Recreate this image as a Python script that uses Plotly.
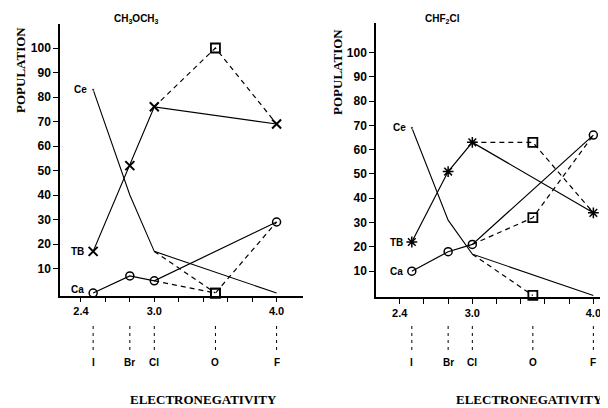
import plotly.graph_objects as go

# ---------------- data ----------------
elements = ["I", "Br", "Cl", "O", "F"]
elem_en = [2.5, 2.8, 3.0, 3.5, 4.0]

en_main = [2.5, 2.8, 3.0, 4.0]      # I, Br, Cl, F
en_o = 3.5                          # O

# CH3OCH3
tb_left = [17, 52, 76, 69]
ce_left = [83, 40, 17, 0]
ca_left = [0, 7, 5, 29]
tb_left_o = 100
ce_left_o = 0
ca_left_o = 0

# CHF2Cl
tb_right = [22, 51, 63, 34]
ce_right = [69, 31, 17, 0]
ca_right = [10, 18, 21, 66]
tb_right_o = 63
ce_right_o = 0
ca_right_o = 32

y_ticks = [10, 20, 30, 40, 50, 60, 70, 80, 90, 100]
x_ticks = [2.4, 3.0, 4.0]
x_ticktext = ["2.4", "3.0", "4.0"]
x_minor_ticks = [2.6, 2.8, 3.2, 3.4, 3.6, 3.8]

titles = ["CH<sub>3</sub>OCH<sub>3</sub>", "CHF<sub>2</sub>Cl"]

# page body has an 8px margin: figure covers window pixels 8..608 / 8..408
OFF = 8
W, H = 600, 400


def px(x):
    return (x - OFF) / W


def py(y):
    return 1 - (y - OFF) / H


BLACK = "black"
DASH = "5px,4px"

fig = go.Figure()


def add_panel(xa, ya, tb, ce, ca, tb_o, ce_o, ca_o, tb_symbol, tb_lw):
    fig.add_trace(go.Scatter(x=en_main, y=tb, xaxis=xa, yaxis=ya, mode="lines+markers",
                             line=dict(color=BLACK, width=1.2),
                             marker=dict(symbol=tb_symbol, size=9, color=BLACK,
                                         line=dict(color=BLACK, width=tb_lw)),
                             cliponaxis=False, showlegend=False))
    fig.add_trace(go.Scatter(x=en_main, y=ce, xaxis=xa, yaxis=ya, mode="lines+markers",
                             line=dict(color=BLACK, width=1.1),
                             marker=dict(symbol="circle", size=[3, 0, 0, 0], color=BLACK),
                             cliponaxis=False, showlegend=False))
    fig.add_trace(go.Scatter(x=en_main, y=ca, xaxis=xa, yaxis=ya, mode="lines+markers",
                             line=dict(color=BLACK, width=1.2),
                             marker=dict(symbol="circle-open", size=8, color=BLACK,
                                         line=dict(color=BLACK, width=1.5)),
                             cliponaxis=False, showlegend=False))
    fig.add_trace(go.Scatter(x=[en_main[2], en_o, en_main[3]], y=[tb[2], tb_o, tb[3]],
                             xaxis=xa, yaxis=ya, mode="lines",
                             line=dict(color=BLACK, width=1.2, dash=DASH),
                             cliponaxis=False, showlegend=False))
    fig.add_trace(go.Scatter(x=[en_main[2], en_o, en_main[3]], y=[ca[2], ca_o, ca[3]],
                             xaxis=xa, yaxis=ya, mode="lines",
                             line=dict(color=BLACK, width=1.2, dash=DASH),
                             cliponaxis=False, showlegend=False))
    fig.add_trace(go.Scatter(x=[en_main[2], en_o], y=[ce[2], ce_o],
                             xaxis=xa, yaxis=ya, mode="lines",
                             line=dict(color=BLACK, width=1.2, dash=DASH),
                             cliponaxis=False, showlegend=False))
    fig.add_trace(go.Scatter(x=[en_o, en_o, en_o], y=[tb_o, ca_o, ce_o],
                             xaxis=xa, yaxis=ya, mode="markers",
                             marker=dict(symbol="square-open", size=9, color=BLACK,
                                         line=dict(color=BLACK, width=1.8)),
                             cliponaxis=False, showlegend=False))
    lab_font = dict(family="Liberation Sans", size=10, color=BLACK, weight="bold")
    for txt, yv, shift in (("Ce", ce[0], -4), ("TB", tb[0], -7), ("Ca", ca[0], -7)):
        fig.add_annotation(x=en_main[0], y=yv, xref=xa, yref=ya, text=txt,
                           showarrow=False, xanchor="right", yanchor="middle",
                           xshift=shift, yshift=4 if (txt == "Ca" and yv == 0) else 0,
                           font=lab_font)
    for el, xv in zip(elements, elem_en):
        fig.add_shape(type="line", xref=xa, yref="paper", x0=xv, x1=xv,
                      y0=py(326), y1=py(352),
                      line=dict(color=BLACK, width=1, dash="3px,4px"))
        fig.add_annotation(x=xv, y=py(362), xref=xa, yref="paper", text=el,
                           showarrow=False, xanchor="center", yanchor="middle",
                           font=dict(family="Liberation Sans", size=10, color=BLACK,
                                     weight="bold"))


add_panel("x", "y", tb_left, ce_left, ca_left, tb_left_o, ce_left_o, ca_left_o,
          "x-thin-open", 2)
add_panel("x2", "y2", tb_right, ce_right, ca_right, tb_right_o, ce_right_o, ca_right_o,
          "asterisk-open", 1.5)

xfont = dict(family="Liberation Sans", size=11, color=BLACK, weight="bold")
yfont = dict(family="Liberation Sans", size=12, color=BLACK, weight="bold")

xaxis_common = dict(showline=True, linecolor=BLACK, linewidth=1.5, showgrid=False,
                    zeroline=False, ticks="outside", ticklen=5, tickwidth=1,
                    tickcolor=BLACK, tickvals=x_ticks, ticktext=x_ticktext,
                    minor=dict(tickvals=x_minor_ticks, ticks="outside", ticklen=5,
                               tickwidth=1, tickcolor=BLACK, showgrid=False),
                    tickfont=xfont, fixedrange=True)
yaxis_common = dict(showline=True, linecolor=BLACK, linewidth=1.5, showgrid=False,
                    zeroline=False, ticks="outside", ticklen=5, tickwidth=1,
                    tickcolor=BLACK, tickvals=y_ticks, tickfont=yfont, fixedrange=True)

fig.update_layout(
    width=W, height=H,
    margin=dict(l=0, r=0, t=0, b=0),
    paper_bgcolor="white", plot_bgcolor="white",
    xaxis=dict(domain=[px(60), px(303)], range=[2.229, 4.216], anchor="y", **xaxis_common),
    yaxis=dict(domain=[py(295.5), py(23.5)], range=[-1, 110], anchor="x", **yaxis_common),
    xaxis2=dict(domain=[px(376), 1.0], range=[2.204, 4.121], anchor="y2", **xaxis_common),
    yaxis2=dict(domain=[py(297.4), py(23.3)], range=[-0.8, 112], anchor="x2",
                **yaxis_common),
)

for txt, xp in zip(titles, [136, 442]):
    fig.add_annotation(x=px(xp), y=py(19), xref="paper", yref="paper", text=txt,
                       showarrow=False, xanchor="center", yanchor="middle",
                       font=dict(family="Liberation Sans", size=10, color=BLACK,
                                 weight="bold"))

for xp, yp in ((20, 70), (337, 72)):
    fig.add_annotation(x=px(xp), y=py(yp), xref="paper", yref="paper",
                       text="POPULATION", textangle=-90, showarrow=False,
                       xanchor="center", yanchor="middle",
                       font=dict(family="Liberation Serif", size=13, color=BLACK,
                                 weight="bold"))

for xp in (203, 529):
    fig.add_annotation(x=px(xp), y=py(399), xref="paper", yref="paper",
                       text="ELECTRONEGATIVITY", showarrow=False,
                       xanchor="center", yanchor="middle",
                       font=dict(family="Liberation Serif", size=13, color=BLACK,
                                 weight="bold"))

fig.write_html("out.html")
